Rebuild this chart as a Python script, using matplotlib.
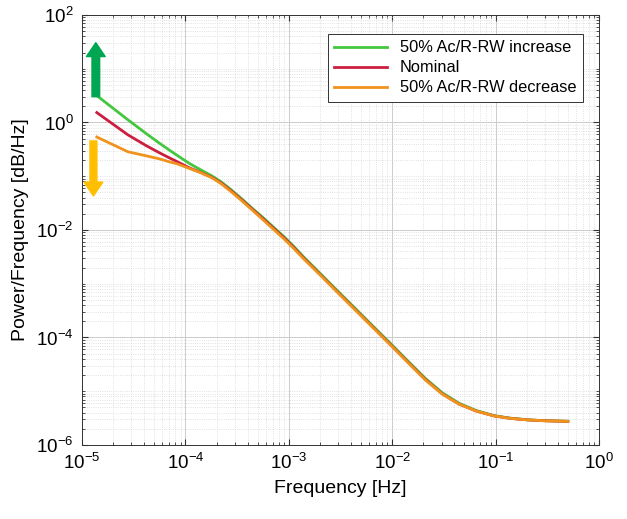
import numpy as np
import matplotlib
matplotlib.use("Agg")
import matplotlib.pyplot as plt
from matplotlib.ticker import LogLocator, NullFormatter

plt.rcParams["font.family"] = ["Liberation Sans", "DejaVu Sans"]
plt.rcParams["mathtext.default"] = "regular"

# frequency bins [Hz] and log10(PSD)
freq = [1.39e-5, 2.78e-5, 4.17e-5, 5.56e-5, 6.95e-5, 8.34e-5, 1.11e-4,
        1.39e-4, 1.81e-4, 2.22e-4, 2.78e-4, 3.48e-4, 4.45e-4, 5.56e-4,
        6.95e-4, 9.04e-4, 1.11e-3, 1.39e-3, 2.09e-3, 3.06e-3, 4.45e-3,
        6.53e-3, 9.73e-3, 1.39e-2, 2.09e-2, 3.06e-2, 4.45e-2, 6.53e-2,
        9.73e-2, 1.39e-1, 2.09e-1, 3.06e-1, 5.0e-1]
log_increase = [0.50, 0.05, -0.205, -0.38, -0.51, -0.613, -0.77,
                -0.875, -0.995, -1.105, -1.255, -1.415, -1.60, -1.76,
                -1.93, -2.13, -2.30, -2.50, -2.84, -3.16, -3.47,
                -3.79, -4.12, -4.42, -4.76, -5.03, -5.225, -5.36,
                -5.455, -5.50, -5.532, -5.548, -5.558]
log_nominal = [0.185, -0.23, -0.43, -0.56, -0.655, -0.73, -0.85,
               -0.925, -1.021, -1.127, -1.273, -1.434, -1.616, -1.78,
               -1.95, -2.15, -2.32, -2.52, -2.86, -3.18, -3.49,
               -3.81, -4.14, -4.44, -4.78, -5.05, -5.24, -5.37,
               -5.46, -5.505, -5.535, -5.55, -5.56]
log_decrease = [-0.27, -0.545, -0.62, -0.675, -0.73, -0.77, -0.86,
                -0.93, -1.03, -1.14, -1.29, -1.45, -1.632, -1.80,
                -1.97, -2.17, -2.34, -2.535, -2.87, -3.19, -3.50,
                -3.82, -4.15, -4.45, -4.79, -5.055, -5.24, -5.37,
                -5.46, -5.505, -5.535, -5.55, -5.56]
labels = ["50% Ac/R-RW increase", "Nominal", "50% Ac/R-RW decrease"]
colors = ["#44c73f", "#cc1f3f", "#f0931c"]

fig = plt.figure(figsize=(6.27, 5.19), dpi=100)
ax = fig.add_axes([0.1308, 0.1426, 0.8245, 0.8285])

for vals, lab, col in zip([log_increase, log_nominal, log_decrease], labels, colors):
    ax.plot(freq, 10 ** np.array(vals), color=col, lw=2, label=lab)

ax.set_xscale("log")
ax.set_yscale("log")
ax.set_xlim(1e-5, 1)
ax.set_ylim(1e-6, 1e2)
ax.set_yticks([1e-6, 1e-4, 1e-2, 1e0, 1e2])
ax.xaxis.set_minor_locator(LogLocator(base=10, subs=np.arange(1, 10), numticks=50))
ax.yaxis.set_minor_locator(LogLocator(base=10, subs=np.arange(1, 10), numticks=50))
ax.xaxis.set_minor_formatter(NullFormatter())
ax.yaxis.set_minor_formatter(NullFormatter())

ax.grid(True, which="major", color="#cccccc", lw=0.7, ls="-")
ax.grid(True, which="minor", color="#d8d8d8", lw=0.6, ls=":")
ax.set_axisbelow(True)
ax.tick_params(which="both", direction="in", top=True, right=True,
               color="#333333", labelsize=13.5, pad=6)
ax.tick_params(which="major", length=4)
ax.tick_params(which="minor", length=2)
for s in ax.spines.values():
    s.set_color("#333333")
    s.set_linewidth(0.7)

# arrows showing direction of change
ax.annotate("", xy=(1.36e-5, 10 ** 1.485), xytext=(1.36e-5, 10 ** 0.48),
            arrowprops=dict(arrowstyle="simple,head_width=1.35,head_length=1.0,tail_width=0.55",
                            color="#00a651", shrinkA=0, shrinkB=0))
ax.annotate("", xy=(1.29e-5, 10 ** -1.367), xytext=(1.29e-5, 10 ** -0.344),
            arrowprops=dict(arrowstyle="simple,head_width=1.35,head_length=1.0,tail_width=0.5",
                            color="#ffbf00", shrinkA=0, shrinkB=0))

ax.set_xlabel("Frequency [Hz]", fontsize=14, labelpad=5)
ax.set_ylabel("Power/Frequency [dB/Hz]", fontsize=14, labelpad=5)

leg = ax.legend(loc="upper right", bbox_to_anchor=(0.985, 0.975), fontsize=11.8,
                fancybox=False, framealpha=1, edgecolor="#333333",
                handlelength=3.2, borderpad=0.4, labelspacing=0.3)
leg.get_frame().set_linewidth(0.7)

fig.savefig("out.png", dpi=100)
